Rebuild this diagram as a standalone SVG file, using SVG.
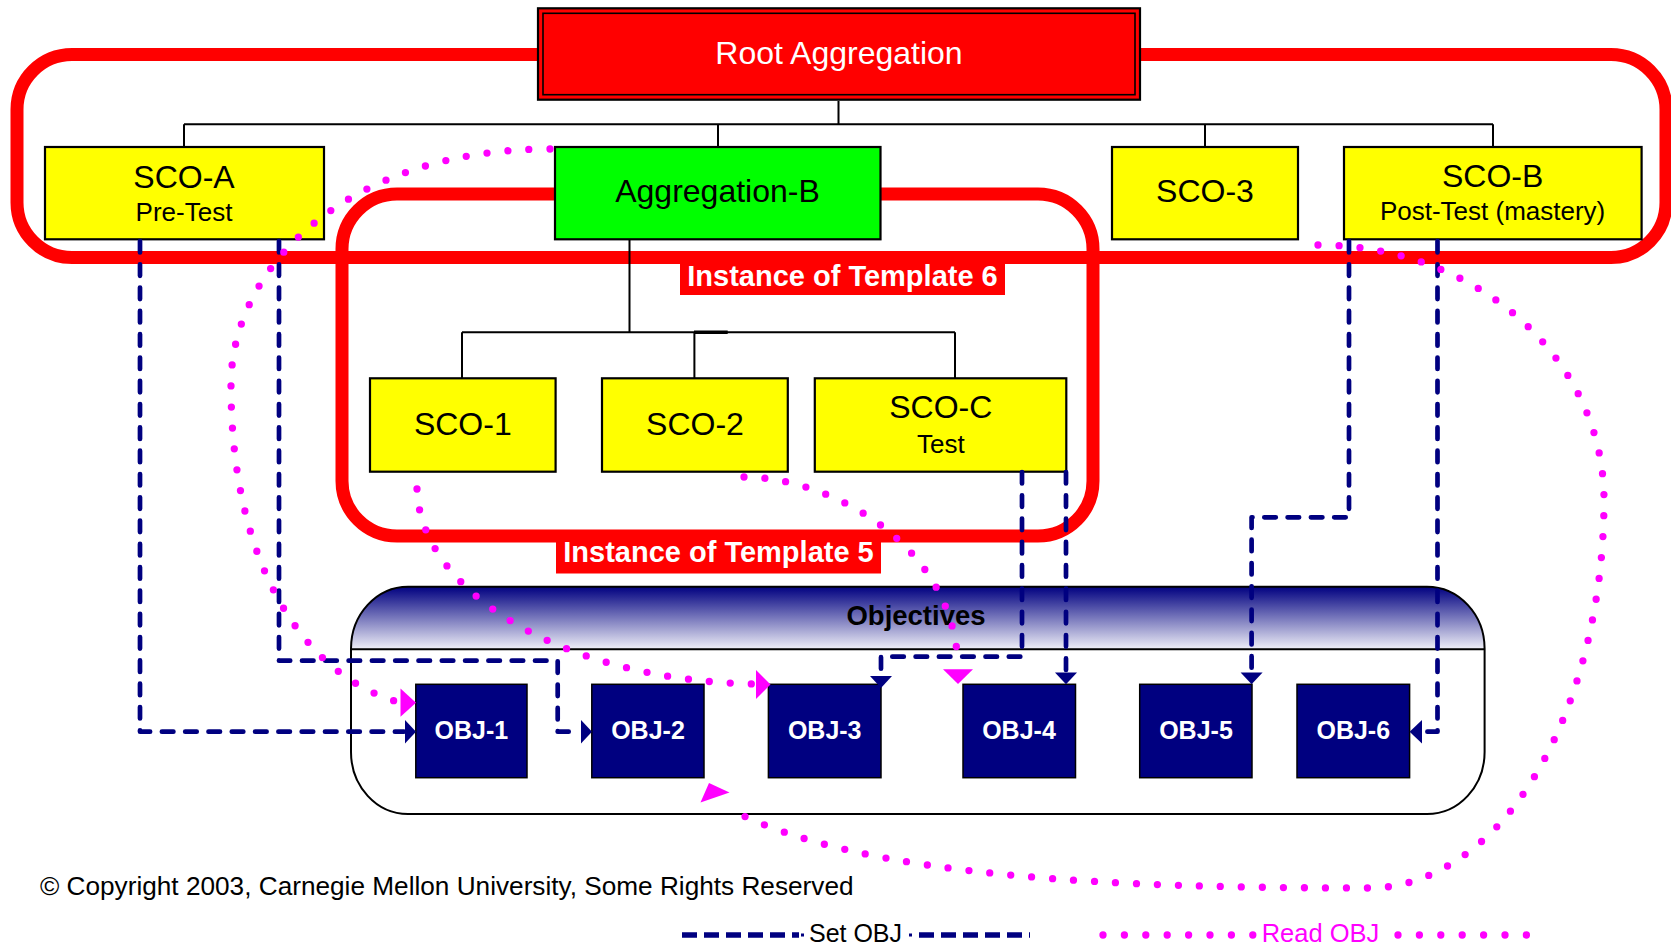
<svg xmlns="http://www.w3.org/2000/svg" width="1671" height="946" viewBox="0 0 1671 946">
  <defs>
    <linearGradient id="hdrGrad" x1="0" y1="0" x2="0" y2="1">
      <stop offset="0" stop-color="#000080"/>
      <stop offset="1" stop-color="#f0f0f8"/>
    </linearGradient>
    <style>
      .scope{fill:none;stroke:#ff0000;stroke-width:13}
      .tree{fill:none;stroke:#000;stroke-width:2}
      .box{stroke:#000;stroke-width:2.2}
      .sco{fill:#ffff00}
      .agg{fill:#00ff00}
      .obj{fill:#000080;stroke:#000;stroke-width:1.5}
      .txt{font-family:"Liberation Sans",Arial,sans-serif;text-anchor:middle;fill:#000}
      .big{font-size:32px}
      .sub{font-size:26px}
      .lbl{font-family:"Liberation Sans",Arial,sans-serif;font-weight:bold;font-size:29px;fill:#fff;text-anchor:middle}
      .objt{font-family:"Liberation Sans",Arial,sans-serif;font-weight:bold;font-size:25px;fill:#fff;text-anchor:middle}
      .set{fill:none;stroke:#000080;stroke-width:4.7;stroke-dasharray:11.5 11.8;stroke-linecap:round;stroke-linejoin:round}
      .read{fill:none;stroke:#ff00ff;stroke-width:7.3;stroke-dasharray:0 21;stroke-linecap:round}
      .setHead{fill:#000080}
      .readHead{fill:#ff00ff}
    </style>
  </defs>

  <!-- scope outlines -->
  <g id="scopes">
    <rect class="scope" x="17" y="54.5" width="1649" height="203" rx="55"/>
    <rect class="scope" x="342" y="194" width="751" height="342" rx="55"/>
  </g>

  <!-- activity tree lines -->
  <g id="tree">
    <path class="tree" d="M838.5,101 V124.3 M184,124.3 H1493 M184,124.3 V147 M718,124.3 V147 M1205,124.3 V147 M1493,124.3 V147"/>
    <path class="tree" d="M629.5,240 V332.3 M462,332.3 H955 M462,332.3 V378.3 M694.4,332.3 V378.3 M955,332.3 V378.3"/>
    <path d="M694,332.3 H727.7" stroke="#000" stroke-width="3.5"/>
  </g>

  <!-- objectives container -->
  <g id="objectives">
    <path d="M408,586.7 H1427 A57.6,62 0 0 1 1484.6,648.7 V752 A57.6,62 0 0 1 1427,814 H408 A57,62 0 0 1 351,752 V648.7 A57,62 0 0 1 408,586.7 Z" fill="#fff"/>
    <path d="M351,649.3 V648.7 A57,62 0 0 1 408,586.7 H1427 A57.6,62 0 0 1 1484.6,648.7 V649.3 Z" fill="url(#hdrGrad)"/>
    <path d="M408,586.7 H1427 A57.6,62 0 0 1 1484.6,648.7 V752 A57.6,62 0 0 1 1427,814 H408 A57,62 0 0 1 351,752 V648.7 A57,62 0 0 1 408,586.7 Z M351,649.3 H1484.6" fill="none" stroke="#000" stroke-width="2"/>
    <text x="916" y="625" font-family="'Liberation Sans',Arial,sans-serif" font-weight="bold" font-size="27.5" text-anchor="middle" fill="#000">Objectives</text>
  </g>

  <!-- learning activity nodes -->
  <g id="root-aggregation">
    <rect x="538" y="8.3" width="602" height="91.4" fill="#ff0000" stroke="#000" stroke-width="2.2"/>
    <rect x="543" y="13.3" width="592" height="81.4" fill="none" stroke="#000" stroke-width="1.6"/>
    <text class="txt big" x="839" y="63.5" style="fill:#fff">Root Aggregation</text>
  </g>
  <g id="sco-a">
    <rect class="box sco" x="45" y="147" width="279" height="92.3"/>
    <text class="txt big" x="184" y="188">SCO-A</text>
    <text class="txt sub" x="184" y="220.5">Pre-Test</text>
  </g>
  <g id="aggregation-b">
    <rect class="box agg" x="555" y="147" width="325.5" height="92.3"/>
    <text class="txt big" x="717.5" y="201.7">Aggregation-B</text>
  </g>
  <g id="sco-3">
    <rect class="box sco" x="1112" y="147" width="186" height="92.3"/>
    <text class="txt big" x="1205" y="201.7">SCO-3</text>
  </g>
  <g id="sco-b">
    <rect class="box sco" x="1344" y="147" width="297.6" height="92.3"/>
    <text class="txt big" x="1492.6" y="187">SCO-B</text>
    <text class="txt sub" x="1492.6" y="220">Post-Test (mastery)</text>
  </g>
  <g id="sco-1">
    <rect class="box sco" x="370" y="378.3" width="185.6" height="93.4"/>
    <text class="txt big" x="462.8" y="435">SCO-1</text>
  </g>
  <g id="sco-2">
    <rect class="box sco" x="602" y="378.3" width="185.8" height="93.4"/>
    <text class="txt big" x="695" y="435">SCO-2</text>
  </g>
  <g id="sco-c">
    <rect class="box sco" x="814.8" y="378.3" width="251.5" height="93.4"/>
    <text class="txt big" x="940.8" y="418">SCO-C</text>
    <text class="txt sub" x="940.8" y="452.5">Test</text>
  </g>

  <!-- objective nodes -->
  <g id="obj-1"><rect class="obj" x="415.8" y="684.3" width="111.2" height="93.4"/><text class="objt" x="471.4" y="739">OBJ-1</text></g>
  <g id="obj-2"><rect class="obj" x="591.8" y="684.3" width="112.2" height="93.4"/><text class="objt" x="648" y="739">OBJ-2</text></g>
  <g id="obj-3"><rect class="obj" x="768.4" y="684.3" width="112.6" height="93.4"/><text class="objt" x="824.7" y="739">OBJ-3</text></g>
  <g id="obj-4"><rect class="obj" x="963" y="684.3" width="112.5" height="93.4"/><text class="objt" x="1019" y="739">OBJ-4</text></g>
  <g id="obj-5"><rect class="obj" x="1139.7" y="684.3" width="112.3" height="93.4"/><text class="objt" x="1196" y="739">OBJ-5</text></g>
  <g id="obj-6"><rect class="obj" x="1297" y="684.3" width="112.6" height="93.4"/><text class="objt" x="1353.3" y="739">OBJ-6</text></g>

  <!-- scope labels -->
  <g id="label-template-6">
    <rect x="680" y="263" width="325" height="32" fill="#ff0000"/>
    <text class="lbl" x="842.5" y="285.5">Instance of Template 6</text>
  </g>
  <g id="label-template-5">
    <rect x="556" y="540" width="325" height="33.5" fill="#ff0000"/>
    <text class="lbl" x="718.5" y="562">Instance of Template 5</text>
  </g>

  <!-- objective mappings -->
  <g id="connectors">
    <!-- write (set) mappings -->
    <path class="set" d="M140,241 V731.7 H404"/>
    <polygon class="setHead" points="405,720 416,731.7 405,743.4"/>
    <path class="set" d="M279,241 V660.7 H557.7 V731.7 H580"/>
    <polygon class="setHead" points="581,720 592,731.7 581,743.4"/>
    <path class="set" d="M1022,472 V656.7 H881 V674"/>
    <polygon class="setHead" points="870,676 892,676 881,688"/>
    <path class="set" d="M1066,472 V671"/>
    <polygon class="setHead" points="1055,672.5 1077,672.5 1066,684.3"/>
    <path class="set" d="M1349,241 V517.3 H1251.6 V671"/>
    <polygon class="setHead" points="1240.6,672.5 1262.6,672.5 1251.6,684.3"/>
    <path class="set" d="M1437.5,241 V731.7 H1423"/>
    <polygon class="setHead" points="1422,720 1409.6,731.7 1422,743.4"/>

    <!-- read mappings -->
    <path class="read" d="M550,149 C350,149 231,265 231,385 C231,565 304,675 398,702"/>
    <polygon class="readHead" points="400.5,688.5 416,702.7 400.5,716.7"/>
    <path class="read" d="M417,489 C420,590 560,680 754,684"/>
    <polygon class="readHead" points="756,670 770.5,684.5 756,699"/>
    <path class="read" d="M744,477 C830,477 955,545 958,667"/>
    <polygon class="readHead" points="943,669.3 973,669.3 958,684"/>
    <path class="read" d="M1318,245 C1478,245 1604,360 1604,500 C1604,620 1569.5,742.3 1504.5,818.3 C1478.5,848.7 1430,888 1370,888 C1120,888 861.8,878.6 729,808.7"/>
    <polygon class="readHead" points="709,783 729.5,792.5 700.5,802.5"/>
  </g>

  <!-- footer -->
  <g id="copyright">
    <text x="40" y="895" font-family="'Liberation Sans',Arial,sans-serif" font-size="26.2" fill="#000">© Copyright 2003, Carnegie Mellon University, Some Rights Reserved</text>
  </g>
  <g id="legend">
    <path d="M682,935 H799 M919,935 H1030" fill="none" stroke="#000080" stroke-width="5.5" stroke-dasharray="15 7"/>
    <path d="M801,935 H804 M909,935 H912" fill="none" stroke="#000080" stroke-width="3"/>
    <text x="855.5" y="942" font-family="'Liberation Sans',Arial,sans-serif" font-size="25" text-anchor="middle" fill="#000">Set OBJ</text>
    <path class="read" d="M1103,935 H1253 M1398,935 H1530" style="stroke-dasharray:0 21.4"/>
    <text x="1320.5" y="942" font-family="'Liberation Sans',Arial,sans-serif" font-size="25.5" text-anchor="middle" fill="#ff00ff">Read OBJ</text>
  </g>
</svg>
